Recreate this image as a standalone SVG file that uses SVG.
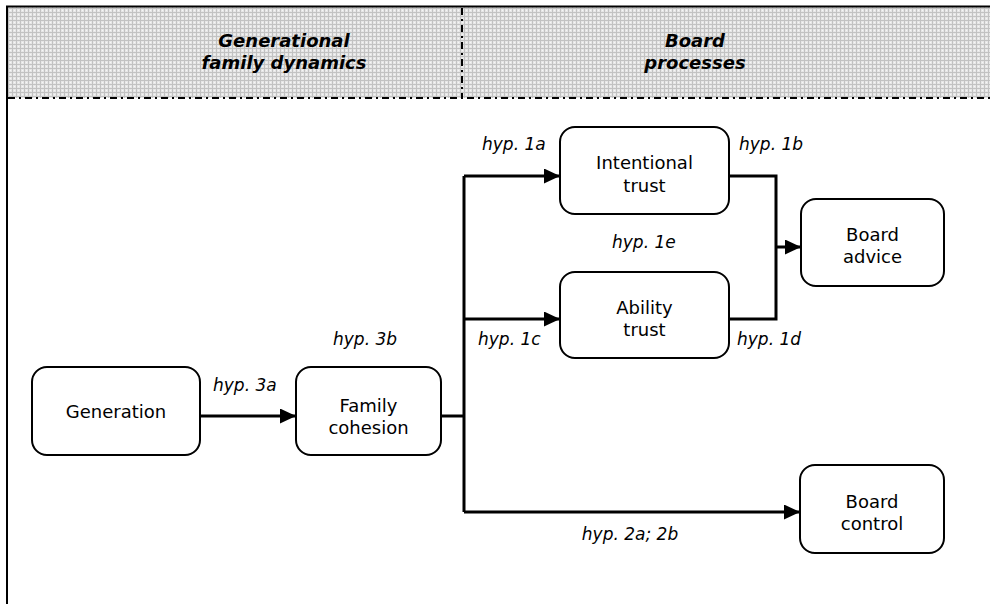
<svg xmlns="http://www.w3.org/2000/svg" width="990" height="604" viewBox="0 0 990 604">
<defs>
<pattern id="hatch" width="4" height="4" patternUnits="userSpaceOnUse">
<rect width="4" height="4" fill="#e6e6e6"/>
<rect x="0" y="0" width="4" height="1" fill="#c2c2c2"/>
<rect x="0" y="0" width="1" height="4" fill="#c2c2c2"/>
<rect x="2" y="2" width="1" height="1" fill="#f6f6f6"/>
</pattern>
<marker id="arr" markerWidth="16" markerHeight="15" refX="16" refY="7.5" orient="auto" markerUnits="userSpaceOnUse">
<path d="M0,0 L16,7.5 L0,15 Z" fill="#000"/>
</marker>
</defs>
<style>
.node rect{fill:#fff;stroke:#000;stroke-width:2}
.node text{font-family:"DejaVu Sans",Verdana,sans-serif;font-size:18px;text-anchor:middle;fill:#000}
.hdr{font-family:"DejaVu Sans",Verdana,sans-serif;font-size:18px;font-weight:bold;font-style:italic;text-anchor:middle;fill:#000}
.lbl{font-family:"DejaVu Sans",Verdana,sans-serif;font-size:17px;font-style:italic;fill:#000}
.conn{fill:none;stroke:#000;stroke-width:3}
.dd{stroke:#000;stroke-width:2;stroke-dasharray:7 4 2 4;fill:none}
</style>
<rect x="8" y="7" width="982" height="91" fill="url(#hatch)"/>
<line x1="6" y1="6.5" x2="990" y2="6.5" stroke="#000" stroke-width="2"/>
<line x1="7" y1="6" x2="7" y2="604" stroke="#000" stroke-width="2"/>
<line class="dd" x1="8" y1="98" x2="990" y2="98"/>
<line class="dd" x1="462" y1="8" x2="462" y2="98"/>
<text class="hdr" x="284" y="47">Generational</text>
<text class="hdr" x="284" y="69">family dynamics</text>
<text class="hdr" x="695" y="47">Board</text>
<text class="hdr" x="695" y="69">processes</text>
<g id="connectors">
<path class="conn" d="M200,416 H296" marker-end="url(#arr)"/>
<path class="conn" d="M441,416 H464"/>
<path class="conn" d="M464,176 V512"/>
<path class="conn" d="M464,176 H560" marker-end="url(#arr)"/>
<path class="conn" d="M464,319 H560" marker-end="url(#arr)"/>
<path class="conn" d="M464,512 H800" marker-end="url(#arr)"/>
<path class="conn" d="M729,176 H776 V319 H729"/>
<path class="conn" d="M776,247 H801" marker-end="url(#arr)"/>
</g>
<g id="labels">
<text class="lbl" x="213" y="391">hyp. 3a</text>
<text class="lbl" x="333" y="345">hyp. 3b</text>
<text class="lbl" x="482" y="150">hyp. 1a</text>
<text class="lbl" x="739" y="150">hyp. 1b</text>
<text class="lbl" x="612" y="248">hyp. 1e</text>
<text class="lbl" x="478" y="345">hyp. 1c</text>
<text class="lbl" x="737" y="345">hyp. 1d</text>
<text class="lbl" x="630" y="540" text-anchor="middle">hyp. 2a; 2b</text>
</g>
<g id="generation" class="node">
<rect x="32" y="367" width="168" height="88" rx="15"/>
<text x="116" y="418">Generation</text>
</g>
<g id="family-cohesion" class="node">
<rect x="296" y="367" width="145" height="88" rx="15"/>
<text x="368.5" y="412">Family</text>
<text x="368.5" y="434">cohesion</text>
</g>
<g id="intentional-trust" class="node">
<rect x="560" y="127" width="169" height="87" rx="15"/>
<text x="644.5" y="169">Intentional</text>
<text x="644.5" y="192">trust</text>
</g>
<g id="ability-trust" class="node">
<rect x="560" y="272" width="169" height="86" rx="15"/>
<text x="644.5" y="314">Ability</text>
<text x="644.5" y="336">trust</text>
</g>
<g id="board-advice" class="node">
<rect x="801" y="199" width="143" height="87" rx="15"/>
<text x="872.5" y="241">Board</text>
<text x="872.5" y="263">advice</text>
</g>
<g id="board-control" class="node">
<rect x="800" y="465" width="144" height="88" rx="15"/>
<text x="872" y="508">Board</text>
<text x="872" y="530">control</text>
</g>
</svg>
